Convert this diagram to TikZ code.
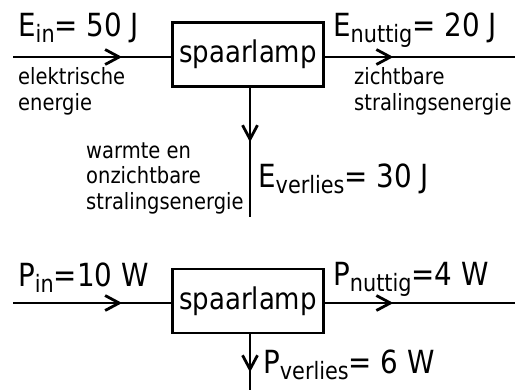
\documentclass[tikz,border=0pt]{standalone}
\usepackage{fontspec}
\setmainfont{DejaVu Sans}
\newfontfamily\narrowsans[FakeStretch=0.87]{DejaVu Sans}
\usetikzlibrary{arrows.meta,decorations.markings}
\newcommand{\lblfont}{\narrowsans\fontsize{32}{34}\selectfont}
\newcommand{\subfont}{\narrowsans\fontsize{24}{26}\selectfont}
\newcommand{\qsub}[3]{#1\raisebox{-6bp}{\subfont #2}#3}
\tikzset{
  flow/.style={line width=2.8bp},
  lampbox/.style={draw, line width=2.8bp, minimum width=151bp, minimum height=64bp,
    inner sep=0pt, font=\narrowsans\fontsize{30}{32}\selectfont},
  qty/.style={anchor=base west, inner sep=0pt, font=\lblfont},
  note/.style={anchor=base west, inner sep=0pt, align=left,
    font=\narrowsans\fontsize{22.5}{25.5}\selectfont},
  midarrow/.style={postaction={decorate, decoration={markings,
    mark=at position #1 with {\arrow{Straight Barb[length=14bp,width=15bp,line width=2.8bp]}}}}}
}
\begin{document}
\begin{tikzpicture}[x=1bp,y=-1bp]
\useasboundingbox (0,0) rectangle (522,390);
% top diagram
\node[lampbox] (b1) at (248,54.5) {spaarlamp};
\coordinate (in1) at (13,57);
\coordinate (out1) at (515,57);
\coordinate (down1) at (250,217);
\draw[flow, midarrow=0.69] (in1) -- (in1 -| b1.west);
\draw[flow, midarrow=0.36] (out1 -| b1.east) -- (out1);
\draw[flow, midarrow=0.42] (down1 |- b1.south) -- (down1);
\node[qty] (ein) at (18,36) {\qsub{E}{in}{= 50 J}};
\node[qty] (enut) at (333,36) {\qsub{E}{nuttig}{= 20 J}};
\node[qty] (ever) at (258,187) {\qsub{E}{verlies}{= 30 J}};
\node[note] (n1) at (18,110) {elektrische\\energie};
\node[note] (n2) at (354,110) {zichtbare\\stralingsenergie};
\node[note] (n3) at (86,209) {warmte en\\onzichtbare\\stralingsenergie};
% bottom diagram
\node[lampbox] (b2) at (248,301) {spaarlamp};
\coordinate (in2) at (13,303);
\coordinate (out2) at (515,303);
\coordinate (down2) at (250,390);
\draw[flow, midarrow=0.69] (in2) -- (in2 -| b2.west);
\draw[flow, midarrow=0.36] (out2 -| b2.east) -- (out2);
\draw[flow, midarrow=0.68] (down2 |- b2.south) -- (down2);
\node[qty] (pin) at (18,286) {\qsub{P}{in}{=10 W}};
\node[qty] (pnut) at (333,285) {\qsub{P}{nuttig}{=4 W}};
\node[qty] (pver) at (263,373) {\qsub{P}{verlies}{= 6 W}};
\end{tikzpicture}
\end{document}
